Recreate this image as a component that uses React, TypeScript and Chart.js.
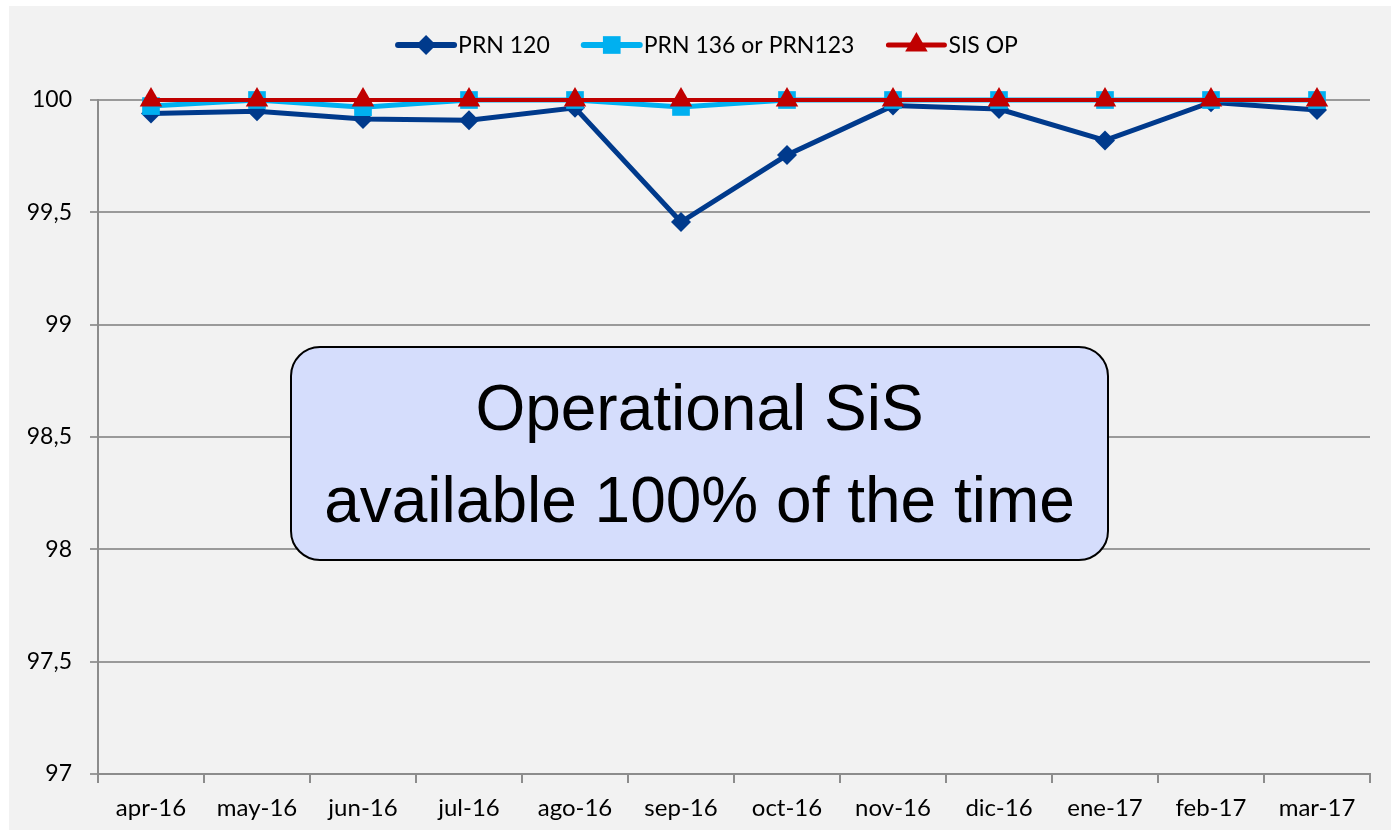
import { useEffect, useRef } from 'react';
import { Chart, registerables } from 'chart.js';

Chart.register(...registerables);

const months = ['apr-16', 'may-16', 'jun-16', 'jul-16', 'ago-16', 'sep-16', 'oct-16', 'nov-16', 'dic-16', 'ene-17', 'feb-17', 'mar-17'];
const prn120 = [99.94, 99.95, 99.915, 99.91, 99.965, 99.457, 99.755, 99.975, 99.96, 99.82, 99.99, 99.955];
const prn136 = [99.973, 100, 99.968, 100, 100, 99.969, 100, 100, 100, 100, 100, 100];
const sisOp = [100, 100, 100, 100, 100, 100, 100, 100, 100, 100, 100, 100];
const seriesNames = ['PRN 120', 'PRN 136 or PRN123', 'SIS OP'];
const yMin = 97;
const yMax = 100;
const yStep = 0.5;
const boxLines = ['Operational SiS', 'available 100% of the time'];

const W = 1391;
const H = 836;
const TICK_FONT = 'Lato, "Open Sans", sans-serif';

const COLORS = ['#003a8c', '#00b0f0', '#c00000'];
const STYLES = ['rectRot', 'rect', 'triangle'];
const RADII = [10, 12.5, 13];
const WIDTHS = [5, 5, 4];

function drawMarker(ctx: CanvasRenderingContext2D, style: string, x: number, y: number, r: number) {
  ctx.beginPath();
  if (style === 'rectRot') {
    ctx.moveTo(x, y - r);
    ctx.lineTo(x + r, y);
    ctx.lineTo(x, y + r);
    ctx.lineTo(x - r, y);
  } else if (style === 'rect') {
    const s = Math.SQRT1_2 * r;
    ctx.rect(x - s, y - s, 2 * s, 2 * s);
  } else {
    ctx.moveTo(x, y - r);
    ctx.lineTo(x + 0.866 * r, y + 0.5 * r);
    ctx.lineTo(x - 0.866 * r, y + 0.5 * r);
  }
  ctx.closePath();
  ctx.fill();
}

const bgPlugin = {
  id: 'bgPlugin',
  beforeDraw(chart: any) {
    const ctx = chart.ctx;
    ctx.save();
    ctx.fillStyle = '#ffffff';
    ctx.fillRect(0, 0, chart.width, chart.height);
    ctx.fillStyle = '#f2f2f2';
    ctx.fillRect(9, 6, chart.width - 9, 830 - 6);
    ctx.restore();
  },
};

const legendPlugin = {
  id: 'customLegend',
  afterDraw(chart: any) {
    const ctx: CanvasRenderingContext2D = chart.ctx;
    ctx.save();
    ctx.font = `23px ${TICK_FONT}`;
    const lineLen = 56;
    const gapText = 4;
    const gapItem = 34;
    const widths = seriesNames.map((n) => lineLen + gapText + ctx.measureText(n).width);
    const total = widths.reduce((a, b) => a + b, 0) + gapItem * (seriesNames.length - 1);
    let x = 708 - total / 2;
    const y = 45;
    seriesNames.forEach((name, i) => {
      ctx.strokeStyle = COLORS[i];
      ctx.lineWidth = WIDTHS[i] + 1;
      ctx.lineCap = 'round';
      ctx.beginPath();
      ctx.moveTo(x, y);
      ctx.lineTo(x + lineLen, y);
      ctx.stroke();
      ctx.fillStyle = COLORS[i];
      drawMarker(ctx, STYLES[i], x + lineLen / 2, y, RADII[i]);
      ctx.fillStyle = '#000000';
      ctx.textBaseline = 'middle';
      ctx.textAlign = 'left';
      ctx.fillText(name, x + lineLen + gapText, y + 1);
      x += widths[i] + gapItem;
    });
    ctx.restore();
  },
};

export default function App() {
  const ref = useRef<HTMLCanvasElement | null>(null);

  useEffect(() => {
    if (!ref.current) return;
    const datasets = [prn120, prn136, sisOp].map((data, i) => ({
      label: seriesNames[i],
      data,
      borderColor: COLORS[i],
      backgroundColor: COLORS[i],
      borderWidth: WIDTHS[i],
      pointStyle: STYLES[i] as any,
      pointRadius: RADII[i],
      pointBorderWidth: 0,
      pointBackgroundColor: COLORS[i],
      pointBorderColor: COLORS[i],
      tension: 0,
      clip: false as any,
      order: 2 - i,
    }));
    const chart = new Chart(ref.current, {
      type: 'line',
      data: { labels: months, datasets },
      options: {
        responsive: false,
        animation: false,
        layout: { padding: { left: 0, top: 100, right: 21, bottom: 6 } },
        plugins: {
          legend: { display: false },
          tooltip: { enabled: false },
        },
        scales: {
          x: {
            offset: true,
            afterFit: (s: any) => {
              s.height = 56;
            },
            grid: {
              display: true,
              offset: true,
              drawOnChartArea: false,
              drawTicks: true,
              tickLength: 9,
              color: '#8c8c8c',
              lineWidth: 2,
            },
            border: { display: true, color: '#8c8c8c', width: 2 },
            ticks: {
              color: '#000000',
              font: { family: TICK_FONT, size: 24 },
              padding: 11,
              maxRotation: 0,
              autoSkip: false,
            },
          },
          y: {
            min: yMin,
            max: yMax,
            afterFit: (s: any) => {
              s.width = 98;
            },
            grid: {
              color: '#9a9a9a',
              lineWidth: 2,
              tickLength: 8,
              drawTicks: true,
            },
            border: { display: true, color: '#8c8c8c', width: 2 },
            ticks: {
              stepSize: yStep,
              color: '#000000',
              font: { family: TICK_FONT, size: 23 },
              padding: 18,
              callback: (v: any) => String(Number(v)).replace('.', ','),
            },
          },
        },
      },
      plugins: [bgPlugin, legendPlugin],
    });
    return () => chart.destroy();
  }, []);

  return (
    <div style={{ position: 'fixed', left: 0, top: 0, width: W, height: H, overflow: 'hidden' }}>
      <canvas ref={ref} width={W} height={H} style={{ width: W, height: H, display: 'block' }} />
      <div
        style={{
          position: 'absolute',
          left: 290,
          top: 346,
          width: 819,
          height: 215,
          boxSizing: 'border-box',
          border: '2px solid #000000',
          borderRadius: 30,
          background: '#d5ddfc',
          display: 'flex',
          flexDirection: 'column',
          alignItems: 'center',
          justifyContent: 'center',
          fontFamily: '"Liberation Sans", Arial, sans-serif',
          fontSize: 64,
          lineHeight: '92px',
          color: '#000000',
          whiteSpace: 'nowrap',
        }}
      >
        {boxLines.map((l) => (
          <div key={l}>{l}</div>
        ))}
      </div>
    </div>
  );
}
